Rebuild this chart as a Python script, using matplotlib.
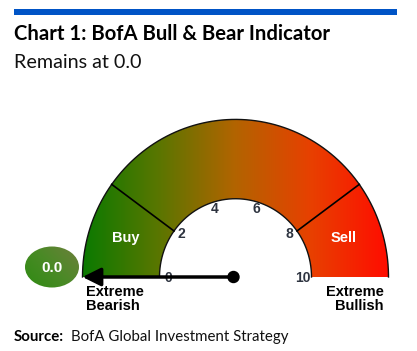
import numpy as np
from matplotlib import pyplot as plt
from matplotlib.colors import LinearSegmentedColormap
from matplotlib.patches import Polygon, Ellipse, Circle, Rectangle

# data
value = 0.0
ticks = [0, 2, 4, 6, 8, 10]
zone_names = ['Buy', 'Sell']
zone_mid = [1.0, 9.0]
zone_edges = [2, 8]
end_labels = ['Extreme\nBearish', 'Extreme\nBullish']
title = 'Chart 1: BofA Bull & Bear Indicator'
subtitle = 'Remains at 0.0'

# geometry (pixel space)
cx, cy = 235.5, 277
r_out, r_in = 153, 76
sy = 1.03  # slight vertical stretch of the gauge


def pt(v, r):
    a = np.pi * (1 - v / 10.0)
    return cx + r * np.cos(a), cy - r * sy * np.sin(a)


fig = plt.figure(figsize=(4.17, 3.51), dpi=100)
ax = fig.add_axes([0, 0, 1, 1])
ax.set_xlim(0, 417)
ax.set_ylim(351, 0)
ax.axis('off')

head_font = ['Lato', 'DejaVu Sans']

# header
ax.add_patch(Rectangle((14, 9), 383, 6, color='#0054c6', lw=0))
ax.text(14, 34, title, fontsize=14.6, fontweight='bold', va='center', ha='left',
        family=head_font)
ax.text(14, 62, subtitle, fontsize=14.2, va='center', ha='left',
        family=head_font, color='#111111')

# gauge band with horizontal gradient
vs = np.linspace(0, 10, 200)
outer = [pt(v, r_out) for v in vs]
inner = [pt(v, r_in) for v in vs[::-1]]
band = Polygon(outer + inner, closed=True, facecolor='none', edgecolor='none')
ax.add_patch(band)
cmap = LinearSegmentedColormap.from_list(
    'g', [(0, '#0a7a00'), (0.25, '#5a7600'), (0.5, '#b26400'),
          (0.75, '#e84000'), (1, '#ff0d00')])
grad = np.linspace(0, 1, 256).reshape(1, -1)
im = ax.imshow(grad, cmap=cmap, aspect='auto',
               extent=[cx - r_out, cx + r_out, cy, cy - r_out * sy - 2])
im.set_clip_path(band)
ax.plot([p[0] for p in outer], [p[1] for p in outer], color='#111111', lw=1)
ax.plot([p[0] for p in inner], [p[1] for p in inner], color='#111111', lw=1)

# zone separators
for e in zone_edges:
    (x0, y0), (x1, y1) = pt(e, r_in), pt(e, r_out)
    ax.plot([x0, x1], [y0, y1], color='black', lw=1.2)

# zone names
for name, m in zip(zone_names, zone_mid):
    x, y = pt(m, (r_in + r_out) / 2)
    ax.text(x - 1, y - 3, name, color='white', fontsize=10.5,
            fontweight='bold', ha='center', va='center', family='Liberation Sans')

# tick labels
for t in ticks:
    x, y = pt(t, 67)
    if t in (0, 10):
        y += 3
    ax.text(x, y - 2, str(t), fontsize=10, fontweight='bold', color='#2e3440',
            ha='center', va='center', family='Liberation Sans')

# needle
tx, ty = pt(value, r_out)
ax.annotate('', xy=(tx, ty), xytext=(cx - 2, cy),
            arrowprops=dict(arrowstyle='-|>,head_length=1.1,head_width=0.55',
                            lw=2.5, color='black', shrinkA=0, shrinkB=0))
ax.add_patch(Circle((cx - 2, cy), 5.5, color='black', zorder=5))

# end labels
ax.text(86, 299, end_labels[0], fontsize=10.5, fontweight='bold', ha='left',
        va='center', family='Liberation Sans', linespacing=1.05)
ax.text(384, 299, end_labels[1], fontsize=10.5, fontweight='bold', ha='right',
        va='center', family='Liberation Sans', linespacing=1.05,
        multialignment='right')

# value bubble
ell = Ellipse((52, 267), 54, 41, facecolor='none', edgecolor='none')
ax.add_patch(ell)
bg = LinearSegmentedColormap.from_list('b', ['#2e8a12', '#4a8a26', '#6e7f3c'])
gx, gy = np.meshgrid(np.linspace(0, 1, 64), np.linspace(1, 0, 64))
bim = ax.imshow(gx * 0.6 + gy * 0.4, cmap=bg, aspect='auto',
                extent=[24, 80, 288, 246])
bim.set_clip_path(ell)
ax.text(52, 268, '%.1f' % value, color='white', fontsize=11, fontweight='bold',
        ha='center', va='center', family='Liberation Sans')

# source
ax.text(14, 337, 'Source:', fontsize=10.8, fontweight='bold', va='center',
        family=head_font)
ax.text(71, 337, 'BofA Global Investment Strategy', fontsize=10.8, va='center',
        family=head_font, color='#111111')

ax.set_xlim(0, 417)
ax.set_ylim(351, 0)
fig.savefig('out.png', dpi=100)
